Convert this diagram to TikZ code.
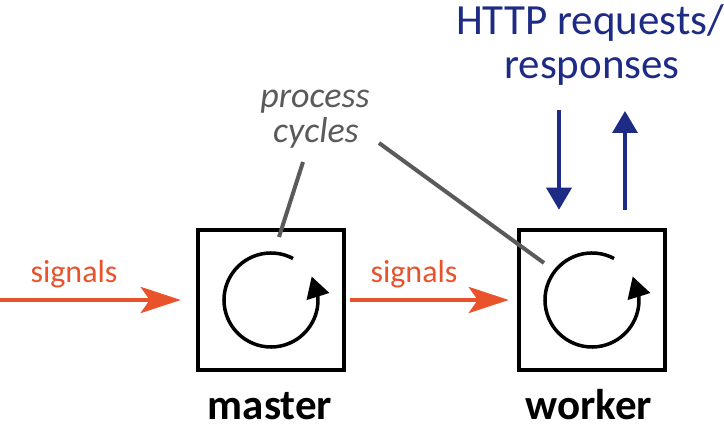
\documentclass[tikz,border=0pt]{standalone}
\usepackage{fontspec}
\setmainfont{Carlito}
\usetikzlibrary{arrows.meta,bending,calc}
\definecolor{sigorange}{HTML}{E9522B}
\definecolor{httpblue}{HTML}{1D2B85}
\definecolor{notegray}{HTML}{5A5A5A}
\begin{document}
\begin{tikzpicture}[x=1pt,y=1pt,
  procbox/.style={draw=black,line width=4.5pt,minimum width=146pt,minimum height=140pt,inner sep=0pt},
  sigarrow/.style={draw=sigorange,line width=4.5pt,-{Stealth[length=40pt,width=26pt,inset=9pt]}},
  httparrow/.style={draw=httpblue,line width=3.5pt,-{Triangle[length=22pt,width=25pt]}},
  looparrow/.style={draw=black,line width=3.5pt,-{Triangle[length=21pt,width=23pt]}},
  noteline/.style={draw=notegray,line width=4pt},
  sigtext/.style={text=sigorange,font=\fontsize{32}{32}\selectfont,anchor=base,inner sep=0pt},
  httptext/.style={text=httpblue,font=\fontsize{43}{43}\selectfont,anchor=base,inner sep=0pt},
  notetext/.style={text=notegray,font=\fontsize{36}{36}\selectfont\itshape,anchor=base,inner sep=0pt},
  labeltext/.style={text=black,font=\fontsize{43}{43}\selectfont\bfseries,anchor=base,inner sep=0pt}]
\useasboundingbox (0,0) rectangle (724,431);

% boxes
\node[procbox] (master) at (271,131) {};
\node[procbox] (worker) at (592,131) {};

% process cycle loops
\draw[looparrow] ([shift={(62:47)}]master.center) arc[start angle=62,end angle=390,radius=47];
\draw[looparrow] ([shift={(62:47)}]worker.center) arc[start angle=62,end angle=390,radius=47];

% labels under boxes
\node[labeltext] (masterlbl) at (270,11) {master};
\node[labeltext] (workerlbl) at (589,11) {worker};

% signals
\coordinate (sigin) at (0,131);
\draw[sigarrow,shorten >=15pt] (sigin) -- (master.west);
\draw[sigarrow,shorten <=4pt,shorten >=8pt] (master.east) -- (worker.west);
\node[sigtext] (sig1) at (74,148) {signals};
\node[sigtext] (sig2) at (414,148) {signals};

% HTTP
\node[httptext] (http1) at (590,396) {HTTP requests/};
\node[httptext] (http2) at (592,352) {responses};
\coordinate (reqtop) at (559,321);
\coordinate (resptop) at (625,320);
\draw[httparrow,shorten >=18pt] (reqtop) -- (reqtop |- worker.north);
\draw[httparrow,shorten <=18pt] (resptop |- worker.north) -- (resptop);

% process cycles note
\node[notetext] (pc1) at (315,323) {process};
\node[notetext] (pc2) at (316,288) {cycles};
\coordinate (n1a) at (303,269);
\coordinate (n1b) at (279,194);
\coordinate (n2a) at (379,288);
\coordinate (n2b) at (544,168);
\draw[noteline] (n1a) -- (n1b);
\draw[noteline] (n2a) -- (n2b);
\end{tikzpicture}
\end{document}
